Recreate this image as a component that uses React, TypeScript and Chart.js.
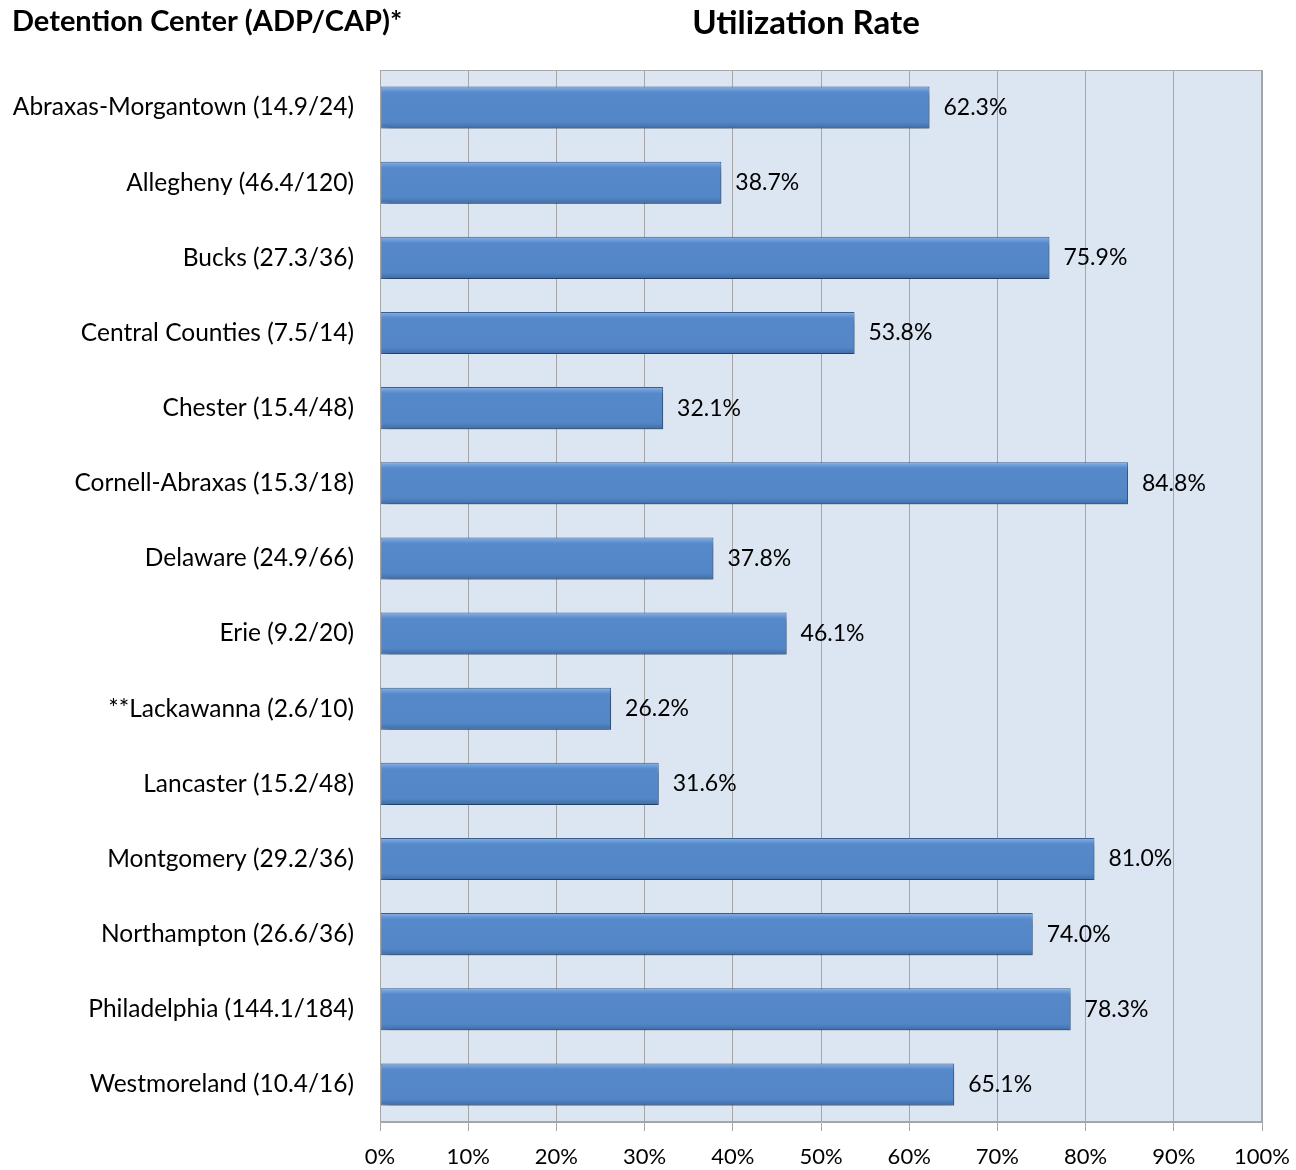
import React, { useEffect, useRef } from "react";
import { Chart, registerables } from "chart.js";

Chart.register(...registerables);

const categories = [
  "Abraxas-Morgantown (14.9/24)",
  "Allegheny (46.4/120)",
  "Bucks (27.3/36)",
  "Central Counties (7.5/14)",
  "Chester (15.4/48)",
  "Cornell-Abraxas (15.3/18)",
  "Delaware (24.9/66)",
  "Erie (9.2/20)",
  "**Lackawanna (2.6/10)",
  "Lancaster (15.2/48)",
  "Montgomery (29.2/36)",
  "Northampton (26.6/36)",
  "Philadelphia (144.1/184)",
  "Westmoreland (10.4/16)",
];
const utilization = [62.3, 38.7, 75.9, 53.8, 32.1, 84.8, 37.8, 46.1, 26.2, 31.6, 81.0, 74.0, 78.3, 65.1];
const leftTitle = "Detention Center (ADP/CAP)*";
const rightTitle = "Utilization Rate";

const FONT = "Lato, 'Open Sans', sans-serif";

const decorPlugin = {
  id: "decor",
  beforeDraw(chart: any) {
    const { ctx, chartArea: a } = chart;
    ctx.save();
    ctx.fillStyle = "#dce6f2";
    ctx.fillRect(a.left, a.top, a.right - a.left, a.bottom - a.top);
    ctx.restore();
  },
  afterDraw(chart: any) {
    const { ctx, chartArea: a } = chart;
    ctx.save();
    ctx.strokeStyle = "#a6a6a6";
    ctx.lineWidth = 1;
    ctx.strokeRect(a.left + 0.5, a.top + 0.5, a.right - a.left - 1, a.bottom - a.top - 1);
    // titles
    ctx.fillStyle = "#000";
    ctx.textBaseline = "middle";
    ctx.font = `bold 29px ${FONT}`;
    ctx.textAlign = "left";
    ctx.fillText(leftTitle, 12, 22);
    ctx.font = `bold 33px ${FONT}`;
    ctx.textAlign = "center";
    ctx.fillText(rightTitle, 806, 23);
    // data labels
    const meta = chart.getDatasetMeta(0);
    ctx.font = `23px ${FONT}`;
    ctx.textAlign = "left";
    meta.data.forEach((bar: any, i: number) => {
      ctx.fillText(utilization[i].toFixed(1) + "%", bar.x + 14, bar.y);
    });
    ctx.restore();
  },
  beforeDatasetsDraw(chart: any) {
    const ctx = chart.ctx;
    ctx.save();
    ctx.shadowColor = "rgba(0,0,0,0.4)";
    ctx.shadowBlur = 7;
    ctx.shadowOffsetX = 3;
    ctx.shadowOffsetY = 5;
  },
  afterDatasetsDraw(chart: any) {
    chart.ctx.restore();
  },
};

export default function App() {
  const ref = useRef<HTMLCanvasElement>(null);
  useEffect(() => {
    const canvas = ref.current!;
    const chart = new Chart(canvas, {
      type: "bar",
      data: {
        labels: categories,
        datasets: [
          {
            data: utilization,
            backgroundColor: (c: any) => {
              const ch = c.chart;
              const ys = ch.scales && ch.scales.y;
              if (!ys || !ch.chartArea || c.dataIndex === undefined) return "#5589c9";
              const yc = ys.getPixelForValue(c.dataIndex);
              if (!Number.isFinite(yc)) return "#5589c9";
              const h = 42;
              const y0 = yc - h / 2;
              const g = ch.ctx.createLinearGradient(0, y0, 0, y0 + h);
              g.addColorStop(0, "#8ab4e8");
              g.addColorStop(0.08, "#6b9ad8");
              g.addColorStop(0.15, "#5589c9");
              g.addColorStop(0.85, "#5286c6");
              g.addColorStop(1, "#3f6ca8");
              return g;
            },
            borderColor: "#3a6191",
            borderWidth: 1,
            borderSkipped: false,
            barPercentage: 0.56,
            categoryPercentage: 1,
          },
        ],
      },
      options: {
        indexAxis: "y",
        animation: false,
        responsive: false,
        maintainAspectRatio: false,
        layout: { padding: { left: 0, right: 34, top: 70, bottom: 0 } },
        plugins: { legend: { display: false }, tooltip: { enabled: false }, title: { display: false } },
        scales: {
          x: {
            min: 0,
            max: 100,
            ticks: {
              stepSize: 10,
              color: "#000",
              font: { family: FONT, size: 22 },
              padding: 13,
              callback: (v: any) => v + "%",
            },
            grid: { color: "#a6a6a6", lineWidth: 1, drawTicks: true, tickLength: 9 },
            border: { color: "#a6a6a6" },
            afterFit: (s: any) => {
              s.height = 48;
              s.paddingLeft = 0;
              s.paddingRight = 0;
            },
          },
          y: {
            ticks: { color: "#000", font: { family: FONT, size: 24.5 }, padding: 26 },
            grid: { display: false, drawTicks: false },
            border: { color: "#a6a6a6" },
            afterFit: (s: any) => {
              s.width = 380;
              s.paddingTop = 0;
              s.paddingBottom = 0;
            },
          },
        },
      },
      plugins: [decorPlugin],
    } as any);
    return () => chart.destroy();
  }, []);
  return (
    <div style={{ position: "fixed", left: 0, top: 0, width: 1296, height: 1170, background: "#fff" }}>
      <canvas ref={ref} width={1296} height={1170} style={{ width: 1296, height: 1170 }} />
    </div>
  );
}
